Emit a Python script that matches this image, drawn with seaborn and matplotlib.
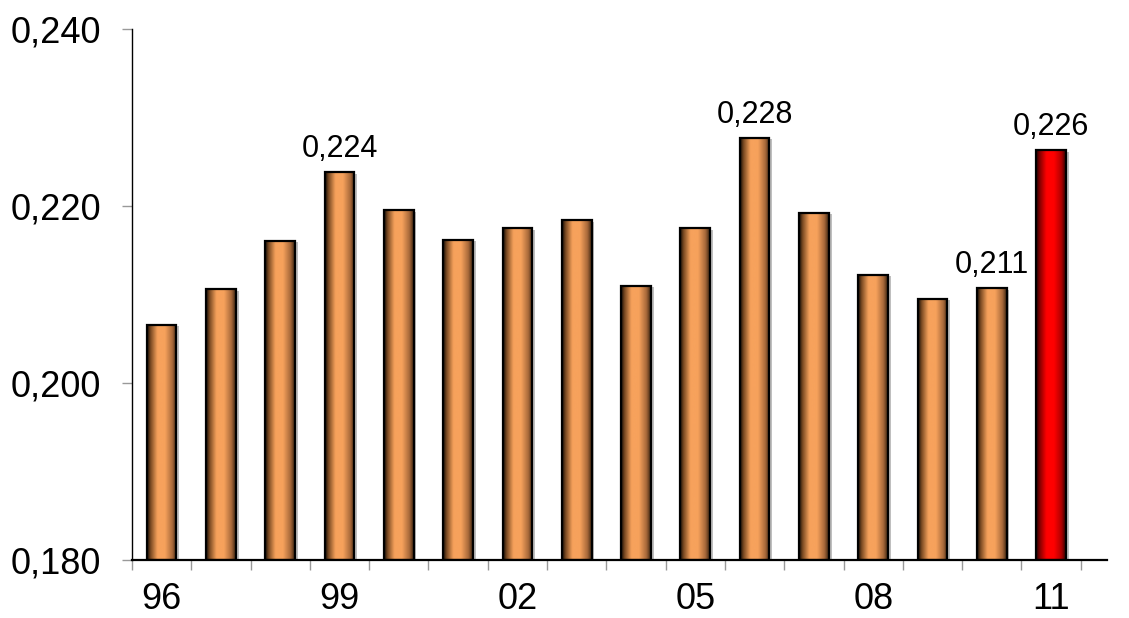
import numpy as np
import matplotlib
matplotlib.use("Agg")
import matplotlib.pyplot as plt
import matplotlib.patheffects as pe
from matplotlib.colors import LinearSegmentedColormap
from matplotlib.patches import Rectangle
import seaborn as sns

years = ["96", "97", "98", "99", "00", "01", "02", "03",
         "04", "05", "06", "07", "08", "09", "10", "11"]
gini = [0.2066, 0.2106, 0.2161, 0.2238, 0.2195, 0.2162, 0.2175, 0.2184,
        0.2110, 0.2175, 0.2277, 0.2192, 0.2122, 0.2095, 0.2107, 0.2263]
labelled = {"99": "0,224", "06": "0,228", "10": "0,211", "11": "0,226"}
shown_years = ["96", "99", "02", "05", "08", "11"]

orange = "#F7A25C"
red = "#FF0000"
colors = [red if y == "11" else orange for y in years]

sns.set_style("white")
plt.rcParams["font.family"] = ["Liberation Sans", "DejaVu Sans"]
plt.rcParams["text.color"] = "black"
plt.rcParams["xtick.labelcolor"] = "black"
plt.rcParams["ytick.labelcolor"] = "black"

fig = plt.figure(figsize=(11.29, 6.18), dpi=100)
ax = fig.add_axes([0.1169, 0.094, 0.864, 0.859])

sns.barplot(x=years, y=gini, hue=years, palette=colors, legend=False,
            width=0.5, ax=ax, saturation=1, edgecolor="none")

ymin, ymax = 0.18, 0.24
cmaps = {
    orange: LinearSegmentedColormap.from_list(
        "o", [(0, "#120a04"), (0.12, "#7a4a22"), (0.35, "#F7A25C"),
              (0.6, "#F7A25C"), (0.85, "#a8693a"), (1, "#3a2310")]),
    red: LinearSegmentedColormap.from_list(
        "r", [(0, "#200000"), (0.12, "#800000"), (0.35, "#FF0000"),
              (0.6, "#FF0000"), (0.85, "#b00000"), (1, "#300000")]),
}
grad = np.linspace(0, 1, 256).reshape(1, -1)

# shaded "cylinder" look: gradient image clipped to each bar
for patch, c in zip(ax.patches, colors):
    x0, w, h = patch.get_x(), patch.get_width(), patch.get_height()
    patch.set_path_effects([pe.SimplePatchShadow(offset=(2, -1), shadow_rgbFace="#b0b0b0", alpha=0.8), pe.Normal()])
    im = ax.imshow(grad, cmap=cmaps[c], aspect="auto",
                   extent=[x0, x0 + w, ymin, h], zorder=2.5, interpolation="bicubic")
    im.set_clip_path(patch)
    ax.add_patch(Rectangle((x0, ymin), w, h - ymin, fill=False, ec="black", lw=1.6, zorder=3))

for i, y in enumerate(years):
    if y in labelled:
        ax.annotate(labelled[y], (i, gini[i]), xytext=(0, 6), textcoords="offset points",
                    ha="center", va="bottom", fontsize=22, color="black")

ax.set_xlim(-0.5, 15.95)
ax.set_ylim(ymin, ymax)
ax.set_yticks([0.18, 0.20, 0.22, 0.24])
ax.set_yticklabels([f"{v:.3f}".replace(".", ",") for v in [0.18, 0.20, 0.22, 0.24]])

ax.set_xticks([years.index(y) for y in shown_years])
ax.set_xticklabels(shown_years)
ax.set_xticks(np.arange(-0.5, 16, 1), minor=True)
ax.tick_params(axis="x", which="major", length=0, pad=16, labelsize=26)
ax.tick_params(axis="x", which="minor", length=7, width=1, color="#999999", direction="out", bottom=True)
ax.tick_params(axis="y", length=7, width=1, color="#999999", direction="out", left=True, pad=15, labelsize=26)

for s in ["top", "right"]:
    ax.spines[s].set_visible(False)
ax.spines["left"].set_color("black")
ax.spines["left"].set_linewidth(1)
ax.spines["bottom"].set_color("black")
ax.spines["bottom"].set_linewidth(1.6)
ax.spines["left"].set_zorder(4)
ax.spines["bottom"].set_zorder(4)
ax.set_xlabel("")
ax.set_ylabel("")

fig.savefig("out.png", dpi=100)
